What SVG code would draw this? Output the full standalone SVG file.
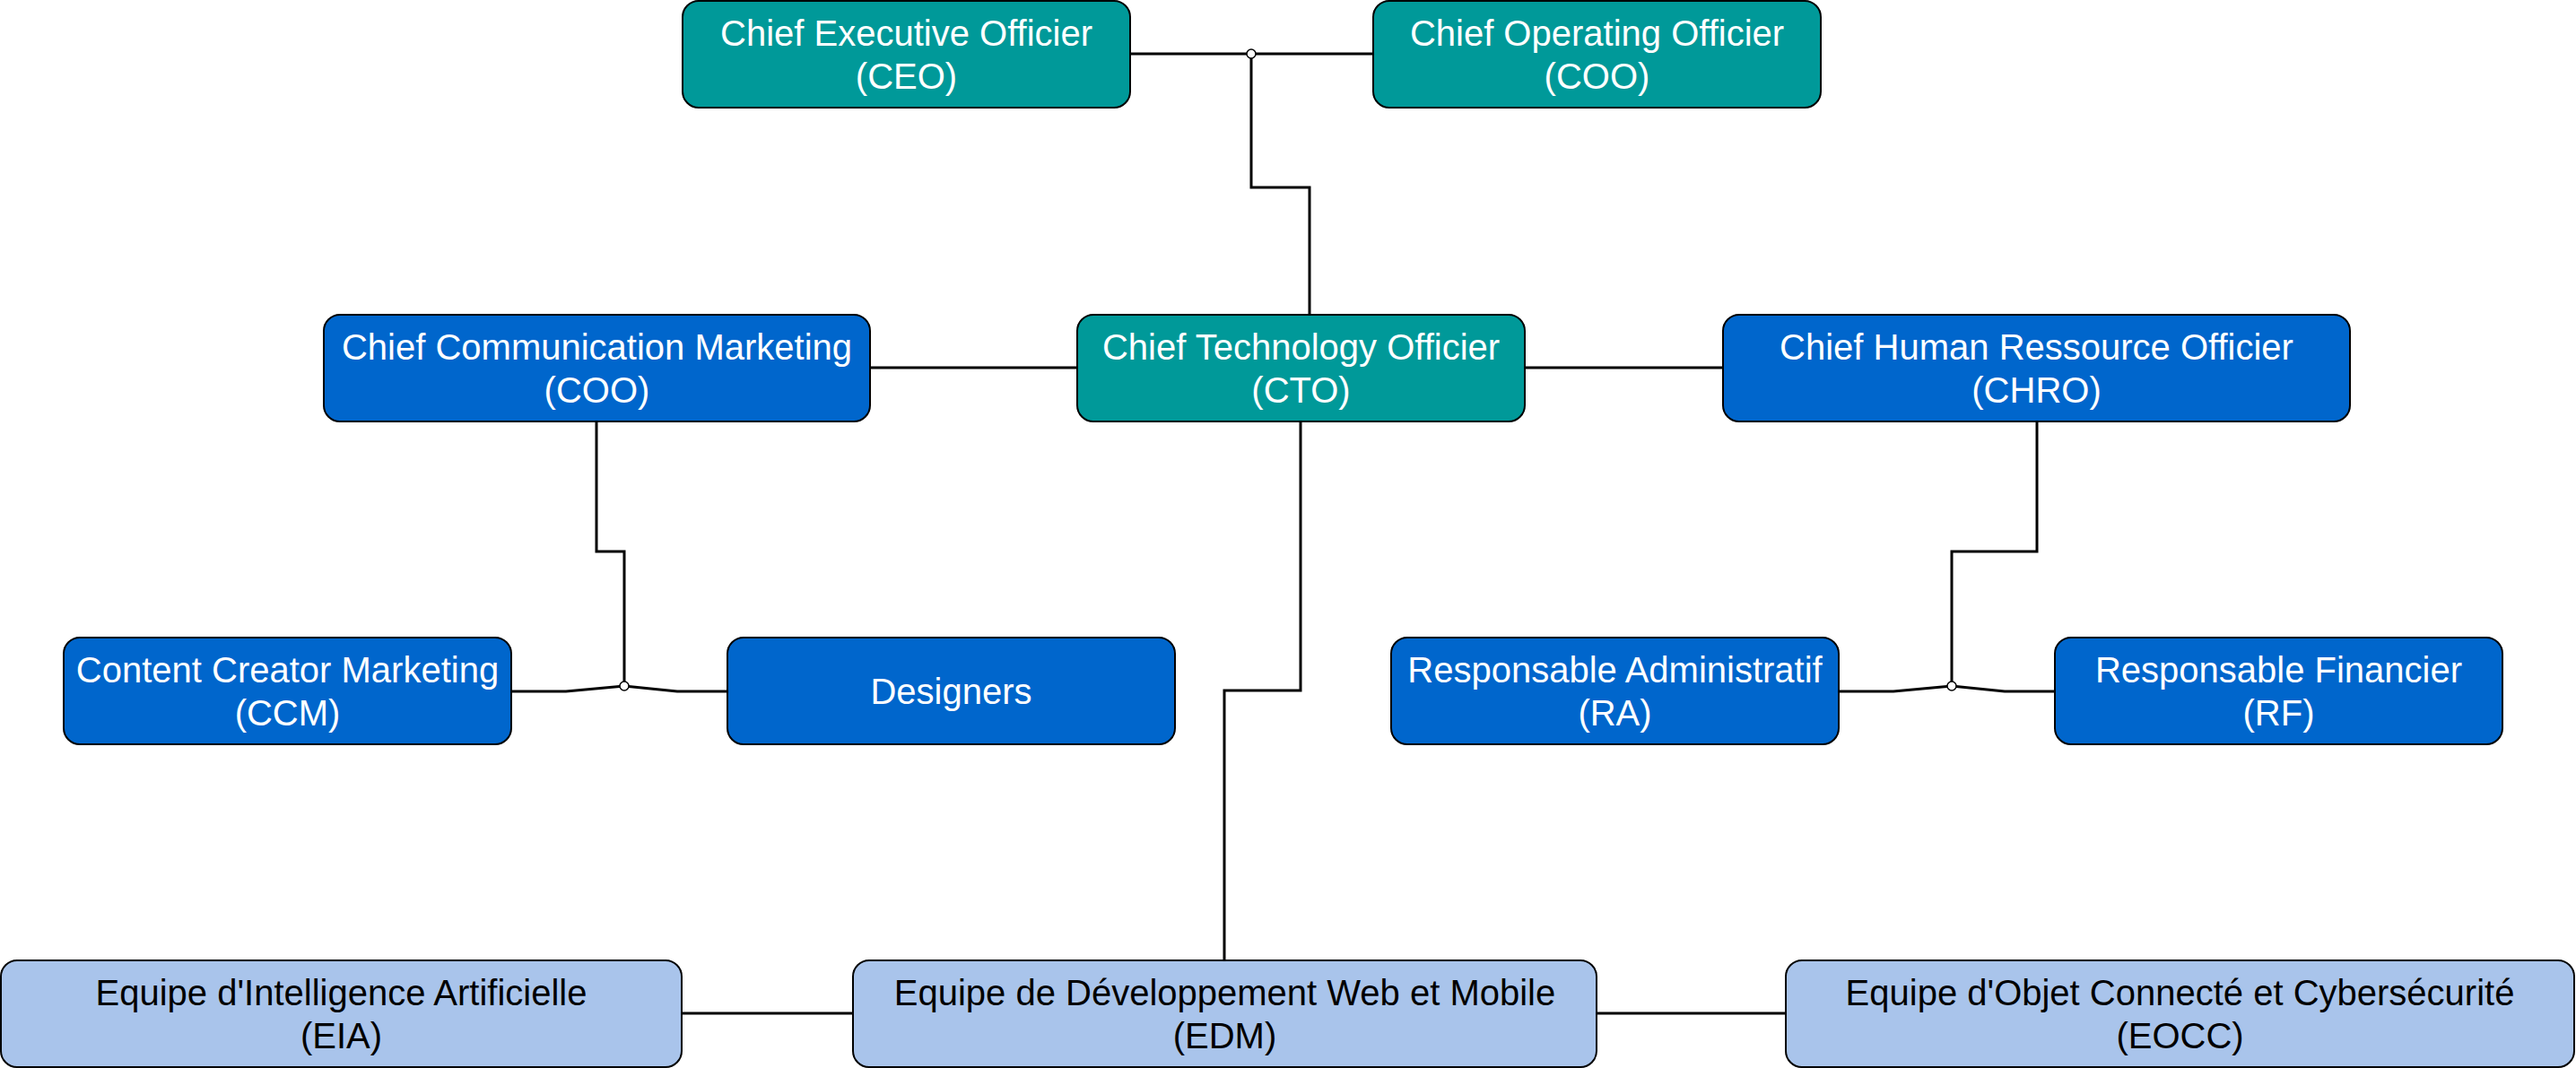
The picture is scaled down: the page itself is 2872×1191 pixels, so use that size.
<svg xmlns="http://www.w3.org/2000/svg" width="2872" height="1191" viewBox="0 0 2872 1191">
<style>
.box{stroke:#000;stroke-width:2}
.teal{fill:#009999}
.blue{fill:#0066CC}
.light{fill:#A9C4EB}
text{font-family:"Liberation Sans",Arial,sans-serif;font-size:40px;text-anchor:middle}
.w{fill:#FFFFFF}
.k{fill:#000000}
.conn path{fill:none;stroke:#000;stroke-width:3}
.jn{fill:#fff;stroke:#000;stroke-width:1.5}
</style>
<rect width="2872" height="1191" fill="#FFFFFF"/>
<g id="connectors" class="conn">
<path d="M1260,60 H1531"/>
<path d="M1395,60 V209 H1460 V351"/>
<path d="M970,410 H1201"/>
<path d="M1700,410 H1921"/>
<path d="M665,470 V615 H696 V765"/>
<path d="M570,771 H631 L696,765 L755,771 H811"/>
<path d="M2271,470 V615 H2176 V765"/>
<path d="M2050,771 H2111 L2176,765 L2235,771 H2291"/>
<path d="M1450,470 V770 H1365 V1071"/>
<path d="M760,1130 H951"/>
<path d="M1780,1130 H1991"/>
<circle class="jn" cx="1395" cy="60" r="5"/>
<circle class="jn" cx="696" cy="765" r="5"/>
<circle class="jn" cx="2176" cy="765" r="5"/>
</g>
<g id="ceo"><rect class="box teal" x="761" y="1" width="499" height="119" rx="18"/><text class="w" x="1010.5" y="51">Chief Executive Officier</text><text class="w" x="1010.5" y="99">(CEO)</text></g>
<g id="coo"><rect class="box teal" x="1531" y="1" width="499" height="119" rx="18"/><text class="w" x="1780.5" y="51">Chief Operating Officier</text><text class="w" x="1780.5" y="99">(COO)</text></g>
<g id="cto"><rect class="box teal" x="1201" y="351" width="499" height="119" rx="18"/><text class="w" x="1450.5" y="401">Chief Technology Officier</text><text class="w" x="1450.5" y="449">(CTO)</text></g>
<g id="ccmk"><rect class="box blue" x="361" y="351" width="609" height="119" rx="18"/><text class="w" x="665.5" y="401">Chief Communication Marketing</text><text class="w" x="665.5" y="449">(COO)</text></g>
<g id="chro"><rect class="box blue" x="1921" y="351" width="699" height="119" rx="18"/><text class="w" x="2270.5" y="401">Chief Human Ressource Officier</text><text class="w" x="2270.5" y="449">(CHRO)</text></g>
<g id="ccm"><rect class="box blue" x="71" y="711" width="499" height="119" rx="18"/><text class="w" x="320.5" y="761">Content Creator Marketing</text><text class="w" x="320.5" y="809">(CCM)</text></g>
<g id="designers"><rect class="box blue" x="811" y="711" width="499" height="119" rx="18"/><text class="w" x="1060.5" y="785">Designers</text></g>
<g id="ra"><rect class="box blue" x="1551" y="711" width="499" height="119" rx="18"/><text class="w" x="1800.5" y="761">Responsable Administratif</text><text class="w" x="1800.5" y="809">(RA)</text></g>
<g id="rf"><rect class="box blue" x="2291" y="711" width="499" height="119" rx="18"/><text class="w" x="2540.5" y="761">Responsable Financier</text><text class="w" x="2540.5" y="809">(RF)</text></g>
<g id="eia"><rect class="box light" x="1" y="1071" width="759" height="119" rx="18"/><text class="k" x="380.5" y="1121">Equipe d'Intelligence Artificielle</text><text class="k" x="380.5" y="1169">(EIA)</text></g>
<g id="edm"><rect class="box light" x="951" y="1071" width="829" height="119" rx="18"/><text class="k" x="1365.5" y="1121">Equipe de Développement Web et Mobile</text><text class="k" x="1365.5" y="1169">(EDM)</text></g>
<g id="eocc"><rect class="box light" x="1991" y="1071" width="879" height="119" rx="18"/><text class="k" x="2430.5" y="1121">Equipe d'Objet Connecté et Cybersécurité</text><text class="k" x="2430.5" y="1169">(EOCC)</text></g>
</svg>
